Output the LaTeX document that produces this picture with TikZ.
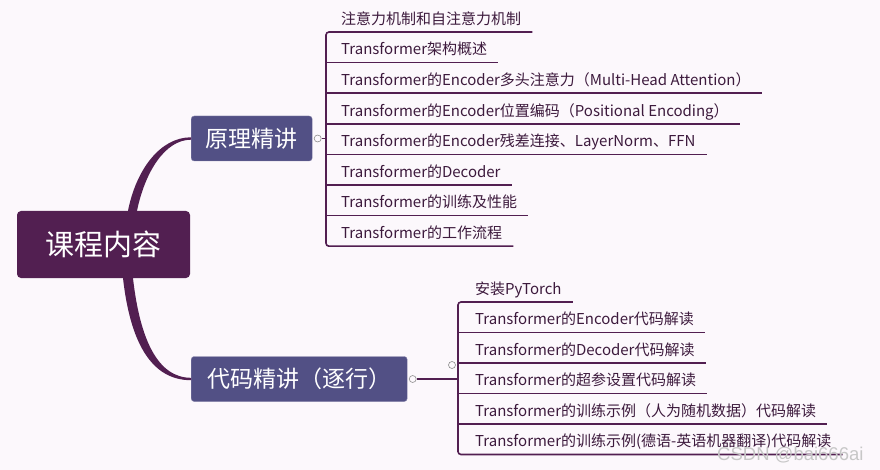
\documentclass[tikz,border=0pt]{standalone}
\usepackage{fontspec}
\usepackage{xcolor}
\usepackage{tikz}
\usetikzlibrary{positioning}
\newfontfamily\cjk{Noto Sans CJK SC}
\newfontfamily\wmark{Liberation Sans}
\definecolor{paper}{HTML}{FCF8FC}
\definecolor{plum}{HTML}{521F51}
\definecolor{slate}{HTML}{525085}
\definecolor{ink}{HTML}{3D1A3D}

\begin{document}
\begin{tikzpicture}[
  x=1pt, y=-1pt,
  font=\cjk,
  root/.style={fill=plum, text=white, rounded corners=4pt, minimum width=173pt, minimum height=67pt, font=\cjk\fontsize{29}{34}\selectfont},
  topic/.style={fill=slate, draw=slate!70!white, text=white, rounded corners=3pt, minimum height=45pt, inner xsep=12pt, font=\cjk\fontsize{23}{28}\selectfont},
  item/.style={anchor=south west, text=ink, inner xsep=11pt, inner ysep=4.5pt, text depth=3pt, font=\cjk\fontsize{15}{18}\selectfont},
  branch/.style={draw=plum, line width=1.6pt},
  knob/.style={circle, draw=black!45, fill=paper, inner sep=0pt, minimum size=7pt, line width=0.6pt}
]
\fill[paper] (0,0) rectangle (880,470);
\useasboundingbox (0,0) rectangle (880,470);

% main topics
\node[root] (root) at (103.5,244.5) {课程内容};
\node[topic, anchor=west, minimum width=121pt] (theory) at (191,138.5) {原理精讲};
\node[topic, anchor=west, minimum width=216pt] (code) at (191,379) {代码精讲（逐行）};

% tapered branches
\fill[plum] ([xshift=24.5pt]root.north) .. controls (136,170) and (160,137.3) .. ([yshift=1.2pt]theory.west)
  -- ([yshift=-1.2pt]theory.west) .. controls (165,139.7) and (145,172) .. ([xshift=33.5pt]root.north) -- cycle;
\fill[plum] ([xshift=19.5pt]root.south) .. controls (130,340) and (150,380.2) .. ([yshift=-1.2pt]code.west)
  -- ([yshift=1.2pt]code.west) .. controls (158,377.8) and (140,340) .. ([xshift=29.5pt]root.south) -- cycle;

% theory subtopics
\coordinate (rail1) at (326,0);
\node[item] (t1) at (330,32) {注意力机制和自注意力机制};
\node[below=30.6pt of t1.south west, item] (t2) {Transformer架构概述};
\node[below=30.6pt of t2.south west, item] (t3) {Transformer的Encoder多头注意力（Multi-Head Attention）};
\node[below=30.6pt of t3.south west, item] (t4) {Transformer的Encoder位置编码（Positional Encoding）};
\node[below=30.6pt of t4.south west, item] (t5) {Transformer的Encoder残差连接、LayerNorm、FFN};
\node[below=30.6pt of t5.south west, item] (t6) {Transformer的Decoder};
\node[below=30.6pt of t6.south west, item] (t7) {Transformer的训练及性能};
\node[below=30.6pt of t7.south west, item] (t8) {Transformer的工作流程};

% code subtopics
\coordinate (rail2) at (458,0);
\node[item] (c1) at (464,302) {安装PyTorch};
\node[below=30.5pt of c1.south west, item] (c2) {Transformer的Encoder代码解读};
\node[below=30.5pt of c2.south west, item] (c3) {Transformer的Decoder代码解读};
\node[below=30.5pt of c3.south west, item] (c4) {Transformer的超参设置代码解读};
\node[below=30.5pt of c4.south west, item] (c5) {Transformer的训练示例（人为随机数据）代码解读};
\node[below=30.5pt of c5.south west, item] (c6) {Transformer的训练示例(德语-英语机器翻译)代码解读};

% brackets
\draw[branch, rounded corners=3pt] (t1.south east) -- (t1.south west -| rail1) -- (t8.south west -| rail1) -- (t8.south east);
\draw[branch] (t2.south west -| rail1) -- (t2.south east);
\draw[branch] (t3.south west -| rail1) -- (t3.south east);
\draw[branch] (t4.south west -| rail1) -- (t4.south east);
\draw[branch] (t5.south west -| rail1) -- (t5.south east);
\draw[branch] (t6.south west -| rail1) -- (t6.south east);
\draw[branch] (t7.south west -| rail1) -- (t7.south east);
\draw[branch, rounded corners=3pt] (c1.south east) -- (c1.south west -| rail2) -- (c6.south west -| rail2) -- (c6.south east);
\draw[branch] (c2.south west -| rail2) -- (c2.south east);
\draw[branch] (c3.south west -| rail2) -- (c3.south east);
\draw[branch] (c4.south west -| rail2) -- (c4.south east);
\draw[branch] (c5.south west -| rail2) -- (c5.south east);

% collapse knobs
\node[knob, right=1.5pt of theory] (k1) {};
\node[knob, right=1.5pt of code] (k2) {};
\draw[branch] (k1) -- (k1 -| rail1);
\draw[branch] (k2) -- (k2 -| rail2);
\node[knob] (k3) at (452,365) {};

\node[anchor=base west, text=black!22, font=\wmark\fontsize{18.5}{22}\selectfont, inner sep=0pt] (mark) at (717,460) {CSDN @bai666ai};
\end{tikzpicture}
\end{document}
